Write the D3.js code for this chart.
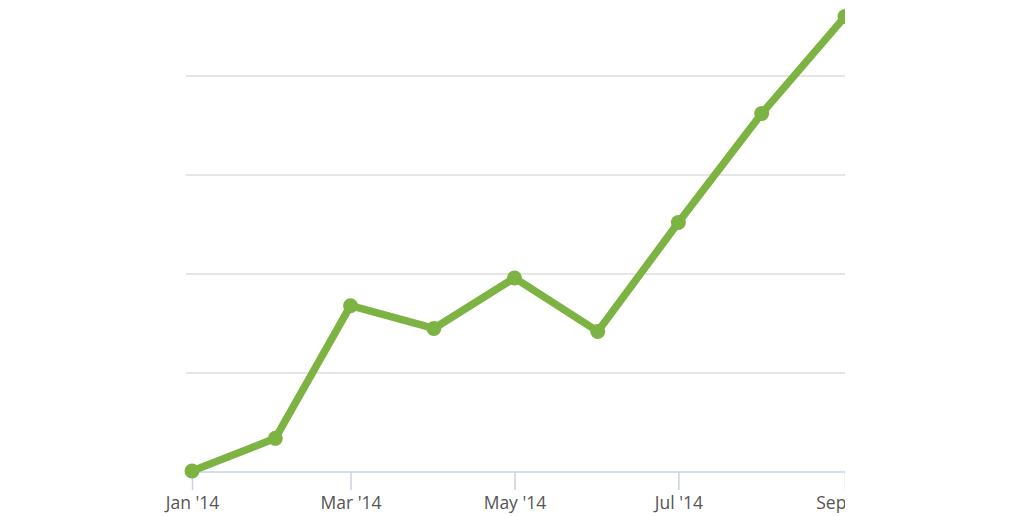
<!DOCTYPE html>
<html>
<head>
<meta charset="utf-8">
<script src="https://cdn.jsdelivr.net/npm/d3@7"></script>
<style>
  html, body { margin: 0; padding: 0; background: #fff; }
  svg { display: block; }
</style>
</head>
<body>
<svg id="chart" width="1024" height="516"></svg>
<script>
// Data (values in grid units; baseline = 0)
const months = ["2014-01-01","2014-02-01","2014-03-01","2014-04-01","2014-05-01","2014-06-01","2014-07-01","2014-08-01","2014-09-01"];
const values = [0.01, 0.34, 1.68, 1.45, 1.96, 1.42, 2.52, 3.62, 4.6];
const gridValues = [1, 2, 3, 4];
const tickDates = ["2014-01-01","2014-03-01","2014-05-01","2014-07-01","2014-09-01"];
const tickLabels = ["Jan '14","Mar '14","May '14","Jul '14","Sep '14"];

const parse = d3.timeParse("%Y-%m-%d");
const data = months.map((m, i) => ({ date: parse(m), value: values[i] }));

const svg = d3.select("#chart");
const clipRight = 845;

svg.append("defs").append("clipPath").attr("id", "clip")
  .append("rect").attr("x", 0).attr("y", 0).attr("width", clipRight).attr("height", 516);

const x = d3.scaleTime()
  .domain([parse("2014-01-01"), parse("2014-09-01")])
  .range([192, 845]);
const y = d3.scaleLinear().domain([0, 4]).range([472, 76]);

const g = svg.append("g").attr("clip-path", "url(#clip)");

// gridlines
g.append("g").selectAll("line").data(gridValues).join("line")
  .attr("x1", 186).attr("x2", clipRight)
  .attr("y1", d => y(d)).attr("y2", d => y(d))
  .attr("stroke", "#dcdcdc").attr("stroke-width", 1.5);

// x axis
const xAxis = d3.axisBottom(x)
  .tickValues(tickDates.map(parse))
  .tickFormat((d, i) => tickLabels[i])
  .tickSize(18)
  .tickPadding(7);

const ax = g.append("g").attr("transform", `translate(0,${y(0)})`).call(xAxis);
ax.select(".domain").attr("stroke", "#c5d3e2").attr("stroke-width", 1.5)
  .attr("d", `M${x.range()[0] - 1},0H${x.range()[1]}`);
ax.selectAll(".tick line").attr("stroke", "#c5d3e2").attr("stroke-width", 1.5);
ax.selectAll(".tick text")
  .attr("fill", "#555")
  .attr("font-family", "'Open Sans', Lato, sans-serif")
  .attr("font-size", "17.5px")
  .attr("dy", "0.71em");

// line
const line = d3.line().x(d => x(d.date)).y(d => y(d.value));
g.append("path").datum(data)
  .attr("fill", "none")
  .attr("stroke", "#7cb342")
  .attr("stroke-width", 7.5)
  .attr("stroke-linejoin", "round")
  .attr("d", line);

g.append("g").selectAll("circle").data(data).join("circle")
  .attr("cx", d => x(d.date)).attr("cy", d => y(d.value))
  .attr("r", 7.5)
  .attr("fill", "#7cb342");
</script>
</body>
</html>
